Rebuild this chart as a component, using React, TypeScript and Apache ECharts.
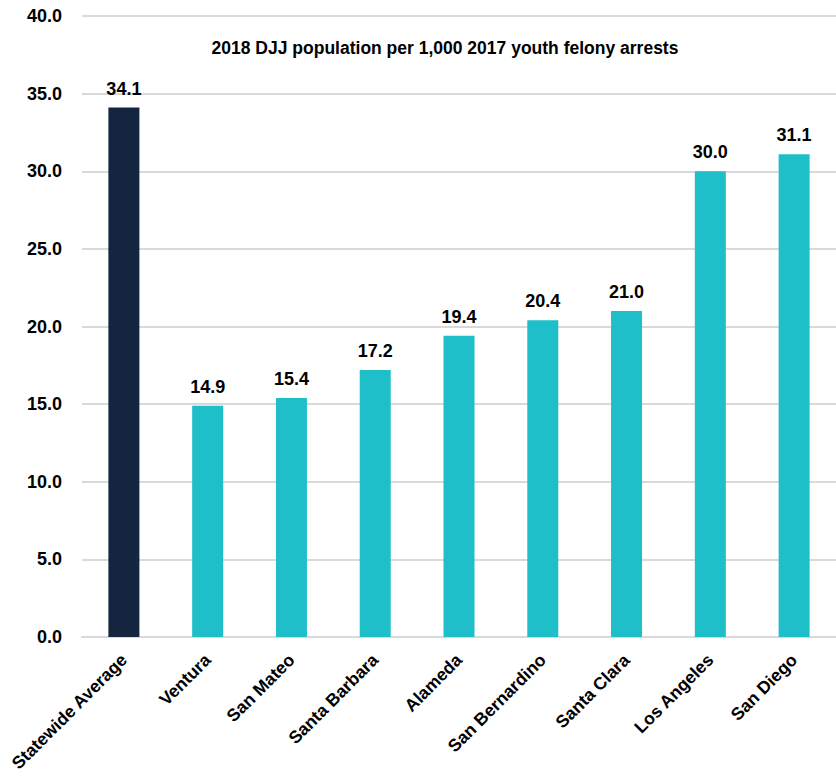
import React, { useEffect, useRef } from "react";
import * as echarts from "echarts";

const categories = ["Statewide Average", "Ventura", "San Mateo", "Santa Barbara", "Alameda", "San Bernardino", "Santa Clara", "Los Angeles", "San Diego"];
const values = [34.1, 14.9, 15.4, 17.2, 19.4, 20.4, 21.0, 30.0, 31.1];
const titleText = "2018 DJJ population per 1,000 2017 youth felony arrests";

const NARROW = "'Liberation Sans Narrow', 'Arial Narrow', 'Liberation Sans', Arial, sans-serif";
const SANS = "'Liberation Sans', Arial, sans-serif";

export default function App() {
  const ref = useRef<HTMLDivElement>(null);
  useEffect(() => {
    const chart = echarts.init(ref.current!, null, { renderer: "svg" });
    chart.setOption({
      animation: false,
      title: {
        text: titleText,
        left: 440,
        top: 34,
        textAlign: "center",
        textStyle: { fontFamily: NARROW, fontSize: 17.5, fontWeight: "bold", color: "#000" },
      },
      grid: { left: 82, right: 0, top: 16, bottom: 142, containLabel: false },
      xAxis: {
        type: "category",
        data: categories,
        axisTick: { show: false },
        axisLine: { show: true, lineStyle: { color: "#d9d9d9", width: 2 } },
        axisLabel: {
          rotate: 45,
          interval: 0,
          margin: 20,
          fontFamily: SANS,
          fontSize: 17.5,
          fontWeight: "bold",
          color: "#000",
        },
      },
      yAxis: {
        type: "value",
        min: 0,
        max: 40,
        interval: 5,
        axisLine: { show: false },
        axisTick: { show: false },
        splitLine: { lineStyle: { color: "#d9d9d9", width: 2 } },
        axisLabel: {
          formatter: (v: number) => v.toFixed(1),
          margin: 20,
          fontFamily: NARROW,
          fontSize: 18,
          fontWeight: "bold",
          color: "#000",
        },
      },
      series: [
        {
          type: "bar",
          barWidth: 31,
          data: values.map((v, i) => ({
            value: v,
            itemStyle: { color: i === 0 ? "#14263f" : "#1fbfc9" },
          })),
          label: {
            show: true,
            position: "top",
            distance: 10,
            formatter: (p: any) => Number(p.value).toFixed(1),
            fontFamily: NARROW,
            fontSize: 18,
            fontWeight: "bold",
            color: "#000",
          },
        },
      ],
    });
    return () => chart.dispose();
  }, []);
  return <div ref={ref} style={{ width: 836, height: 779, position: "absolute", left: 0, top: 0 }} />;
}
